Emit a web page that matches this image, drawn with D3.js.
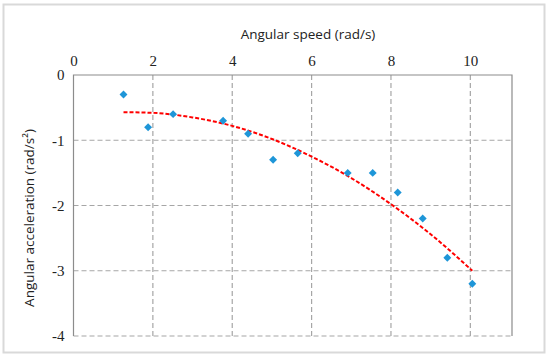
<!DOCTYPE html>
<html>
<head>
<meta charset="utf-8">
<script src="https://cdn.jsdelivr.net/npm/d3@7"></script>
<style>
  html, body { margin: 0; padding: 0; background: #fff; }
</style>
</head>
<body>
<div id="chart"></div>
<script>
// measured points (angular speed, angular acceleration)
var speeds = [1.26, 1.88, 2.51, 3.77, 4.40, 5.03, 5.65, 6.91, 7.54, 8.17, 8.80, 9.42, 10.05];
var accels = [-0.3, -0.8, -0.6, -0.7, -0.9, -1.3, -1.2, -1.5, -1.5, -1.8, -2.2, -2.8, -3.2];

// trend line
var trendX = [1.26, 2, 3, 4, 5, 6, 7, 8, 9, 10.05];
var trendY = [-0.57, -0.58, -0.65, -0.78, -0.98, -1.25, -1.58, -1.98, -2.44, -3.0];

var xTicks = [0, 2, 4, 6, 8, 10];
var yTicks = [0, -1, -2, -3, -4];

var W = 550, H = 357;
var MARGIN = { top: 75, right: 38, bottom: 21, left: 73.5 };
var width = W - MARGIN.left - MARGIN.right;
var height = H - MARGIN.top - MARGIN.bottom;

var svg = d3.select("#chart").append("svg").attr("width", W).attr("height", H);

// outer frame
svg.append("rect").attr("x", 3.5).attr("y", 4.5).attr("width", 541).attr("height", 348)
  .attr("fill", "none").attr("stroke", "#d9d9d9").attr("stroke-width", 2);

var g = svg.append("g").attr("transform", "translate(" + MARGIN.left + "," + MARGIN.top + ")");

var x = d3.scaleLinear().domain([0, 11.05]).range([0, width]);
var y = d3.scaleLinear().domain([-4, 0]).range([height, 0]);

// grid
g.append("g").selectAll("line").data(xTicks.filter(function(d) { return d > 0; })).enter().append("line")
  .attr("x1", function(d) { return x(d); }).attr("x2", function(d) { return x(d); })
  .attr("y1", 0).attr("y2", height)
  .attr("stroke", "#a6a6a6").attr("stroke-width", 1.2).attr("stroke-dasharray", "5,3");
g.append("g").selectAll("line").data(yTicks.filter(function(d) { return d < 0; })).enter().append("line")
  .attr("x1", 0).attr("x2", width)
  .attr("y1", function(d) { return y(d); }).attr("y2", function(d) { return y(d); })
  .attr("stroke", "#a6a6a6").attr("stroke-width", 1.2).attr("stroke-dasharray", "5,3");

// plot border (top, left, right)
g.append("path").attr("d", "M0," + height + "V0H" + width + "V" + height)
  .attr("fill", "none").attr("stroke", "#8c8c8c").attr("stroke-width", 1.2);

// axes
var fmt = function(d) { return String(d); };
var xAxis = d3.axisTop(x).tickValues(xTicks).tickFormat(fmt).tickSize(0).tickPadding(9);
var yAxis = d3.axisLeft(y).tickValues(yTicks).tickFormat(fmt).tickSize(0).tickPadding(9);
function styleAxis(s) {
  s.select(".domain").remove();
  s.selectAll("text").attr("font-family", "'Liberation Serif', 'DejaVu Serif', serif")
    .attr("font-size", 15).attr("fill", "#222");
}
g.append("g").attr("class", "x axis").call(xAxis).call(styleAxis);
g.append("g").attr("class", "y axis").call(yAxis).call(styleAxis);

// trend line
var line = d3.line().x(function(d) { return x(d[0]); }).y(function(d) { return y(d[1]); }).curve(d3.curveMonotoneX);
g.append("path").datum(d3.zip(trendX, trendY)).attr("d", line)
  .attr("fill", "none").attr("stroke", "#ff0000").attr("stroke-width", 2).attr("stroke-dasharray", "4,2");

// points
g.append("g").selectAll("path").data(d3.zip(speeds, accels)).enter().append("path")
  .attr("d", d3.symbol().type(d3.symbolDiamond2).size(40))
  .attr("transform", function(d) { return "translate(" + x(d[0]) + "," + y(d[1]) + ")"; })
  .attr("fill", "#1e96d8");

// titles
svg.append("text").attr("x", 308).attr("y", 39).attr("text-anchor", "middle")
  .attr("font-family", "'Open Sans', sans-serif").attr("font-size", 13.5).attr("fill", "#222")
  .text("Angular speed (rad/s)");
svg.append("text").attr("text-anchor", "middle")
  .attr("transform", "translate(34,218) rotate(-90)")
  .attr("font-family", "'Open Sans', sans-serif").attr("font-size", 13.5).attr("fill", "#222")
  .text("Angular acceleration (rad/s²)");
</script>
</body>
</html>
